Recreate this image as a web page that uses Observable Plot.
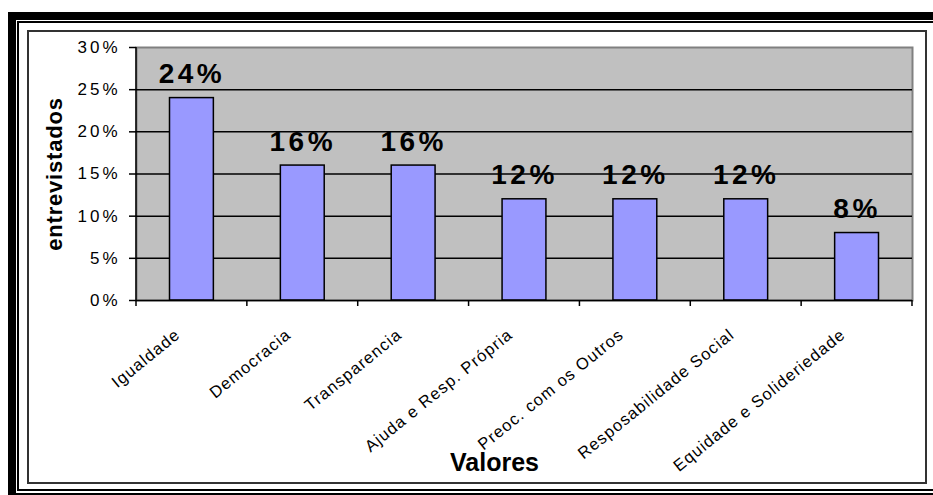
<!DOCTYPE html>
<html><head><meta charset="utf-8">
<script src="https://cdn.jsdelivr.net/npm/d3@7"></script>
<script src="https://cdn.jsdelivr.net/npm/@observablehq/plot@0.6"></script>
<style>
html,body{margin:0;padding:0;background:#fff;width:933px;height:495px;overflow:hidden;position:relative;}
.box{position:absolute;box-sizing:border-box;}
#thick{left:8px;top:12px;width:960px;height:489px;border:8px solid #000;border-right:none;}
#thin{left:17px;top:21px;width:960px;height:470px;border:2px solid #000;border-right:none;}
#chart{left:27px;top:30px;width:900px;height:454px;border:2px solid #333;}
#plot{position:absolute;left:0;top:0;}
.barlbl{letter-spacing:3.5px;}
.catlbl{letter-spacing:1.1px;}
.ylbl{letter-spacing:0.8px;}
g[aria-label="y-axis tick label"]{letter-spacing:3px;}
</style>
</head><body>
<div class="box" id="thick"></div>
<div class="box" id="thin"></div>
<div class="box" id="chart"></div>
<div id="plot"></div>
<script>
const categories = ["Igualdade","Democracia","Transparencia","Ajuda e Resp. Própria","Preoc. com os Outros","Resposabilidade Social","Equidade e Solideriedade"];
const values = [24,16,16,12,12,12,8];
const yTicks = [0,5,10,15,20,25,30];
const gridTicks = [5,10,15,20,25];
const yLabel = "entrevistados";
const xLabel = "Valores";

const data = categories.map((c,i)=>({cat:c, value:values[i]}));

function axisLinesAndBoundaryTicks(...args) {
  const scales = (args[1] && typeof args[1].x === "function") ? args[1] : args[0];
  const x = scales.x, y = scales.y;
  const bw = typeof x.bandwidth === "function" ? x.bandwidth() : x.bandwidth;
  const y0 = y(0), yTop = y(yTicks[yTicks.length-1]);
  const g = d3.create("svg:g").attr("stroke","#000").attr("stroke-width",1.5);
  const xs = [x(categories[0])].concat(categories.map(c => x(c) + bw));
  g.selectAll("line.t").data(xs).join("line").attr("class","t")
    .attr("x1",d=>d).attr("x2",d=>d).attr("y1",y0).attr("y2",y0+6);
  g.append("line").attr("x1",xs[0]).attr("x2",xs[0]).attr("y1",yTop).attr("y2",y0);
  return g.node();
}

const chart = Plot.plot({
  width: 933,
  height: 495,
  marginLeft: 136,
  marginRight: 21,
  marginTop: 47,
  marginBottom: 195,
  style: {fontFamily: "'Liberation Sans', Arial, sans-serif", background: "transparent", overflow: "visible", color: "#000"},
  x: {type: "band", domain: categories, padding: 0, round: false, axis: null},
  y: {domain: [0, 30]},
  marks: [
    Plot.frame({fill: "#C0C0C0", stroke: "#808080", strokeWidth: 2}),
    Plot.ruleY(gridTicks, {stroke: "#000", strokeWidth: 1.5}),
    Plot.barY(data, {x: "cat", y: "value", fill: "#9999FF", stroke: "#000", strokeWidth: 1.5, insetLeft: 33.5, insetRight: 33.5}),
    Plot.ruleY([0], {stroke: "#000", strokeWidth: 1.5}),
    axisLinesAndBoundaryTicks,
    Plot.axisY({ticks: yTicks, tickFormat: d => d + "%", tickSize: 7, tickPadding: 9, fontSize: 17, label: null, stroke: "#000", strokeWidth: 1.5, fill: "#000"}),
    Plot.text(data, {x: "cat", y: "value", text: d => d.value + "%", dy: -24, fontSize: 28, fontWeight: "bold", fill: "#000", lineAnchor: "middle", className: "barlbl"}),
    Plot.text(categories, {x: d => d, frameAnchor: "bottom", rotate: -39, textAnchor: "end", lineAnchor: "middle", dx: -14, dy: 32, fontSize: 16.5, fill: "#000", className: "catlbl"}),
    Plot.text([yLabel], {frameAnchor: "left", rotate: -90, textAnchor: "middle", lineAnchor: "middle", dx: -82, fontSize: 22, fontWeight: "bold", fill: "#000", className: "ylbl"}),
    Plot.text([xLabel], {frameAnchor: "bottom", textAnchor: "middle", lineAnchor: "middle", dx: -30, dy: 162, fontSize: 25, fontWeight: "bold", fill: "#000"})
  ]
});
document.getElementById("plot").appendChild(chart);
</script>
</body></html>
